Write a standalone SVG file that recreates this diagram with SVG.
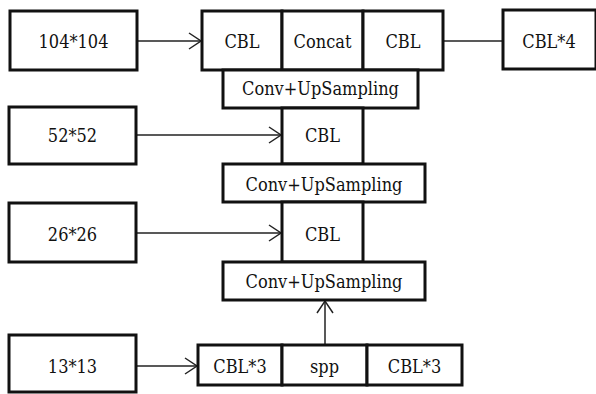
<svg xmlns="http://www.w3.org/2000/svg" width="596" height="394" viewBox="0 0 596 394">
<style>
.b{fill:#fff;stroke:#111;stroke-width:3}
.t{font-family:'DejaVu Serif Condensed','DejaVu Serif',serif;font-stretch:condensed;font-size:18px;fill:#111;text-anchor:middle}
.c{stroke:#222;stroke-width:1.5;fill:none}
</style>
<defs>
<marker id="ah" markerUnits="userSpaceOnUse" markerWidth="16" markerHeight="20" refX="13" refY="9" orient="auto">
<path d="M1,1 L13,9 L1,17" fill="none" stroke="#222" stroke-width="1.5"/>
</marker>
</defs>
<rect width="596" height="394" fill="#fff"/>
<g id="connectors">
<line class="c" x1="137" y1="41" x2="201" y2="41" marker-end="url(#ah)"/>
<line class="c" x1="443" y1="41" x2="503" y2="41"/>
<line class="c" x1="136" y1="135" x2="281" y2="135" marker-end="url(#ah)"/>
<line class="c" x1="136" y1="233" x2="281" y2="233" marker-end="url(#ah)"/>
<line class="c" x1="136" y1="366" x2="197" y2="366" marker-end="url(#ah)"/>
<line class="c" x1="325" y1="345" x2="325" y2="301" marker-end="url(#ah)"/>
</g>
<g id="n104"><rect class="b" x="10" y="11" width="127" height="59"/><text class="t" x="73.5" y="48">104*104</text></g>
<g id="n52"><rect class="b" x="9" y="107" width="127" height="57"/><text class="t" x="72.5" y="142">52*52</text></g>
<g id="n26"><rect class="b" x="9" y="203" width="127" height="59"/><text class="t" x="72.5" y="241">26*26</text></g>
<g id="n13"><rect class="b" x="9" y="335" width="127" height="57"/><text class="t" x="72.5" y="373">13*13</text></g>
<g id="cbl_top1"><rect class="b" x="202" y="11" width="80" height="59"/><text class="t" x="242" y="48">CBL</text></g>
<g id="concat"><rect class="b" x="282" y="11" width="81" height="59"/><text class="t" x="322.5" y="48">Concat</text></g>
<g id="cbl_top2"><rect class="b" x="363" y="11" width="80" height="59"/><text class="t" x="403" y="48">CBL</text></g>
<g id="cbl4"><rect class="b" x="503" y="10" width="93" height="59"/><text class="t" x="549" y="48">CBL*4</text></g>
<g id="conv1"><rect class="b" x="223" y="70" width="195" height="38"/><text class="t" x="320.5" y="95">Conv+UpSampling</text></g>
<g id="cbl_mid"><rect class="b" x="282" y="108" width="81" height="56"/><text class="t" x="322.5" y="142">CBL</text></g>
<g id="conv2"><rect class="b" x="223" y="164" width="202" height="38"/><text class="t" x="324" y="191">Conv+UpSampling</text></g>
<g id="cbl_low"><rect class="b" x="282" y="202" width="81" height="60"/><text class="t" x="322.5" y="241">CBL</text></g>
<g id="conv3"><rect class="b" x="223" y="262" width="202" height="38"/><text class="t" x="324" y="288">Conv+UpSampling</text></g>
<g id="cbl3a"><rect class="b" x="198" y="345" width="84" height="40"/><text class="t" x="240" y="373">CBL*3</text></g>
<g id="spp"><rect class="b" x="282" y="345" width="85" height="40"/><text class="t" x="324.5" y="373">spp</text></g>
<g id="cbl3b"><rect class="b" x="367" y="345" width="95" height="40"/><text class="t" x="414.5" y="373">CBL*3</text></g>
</svg>
